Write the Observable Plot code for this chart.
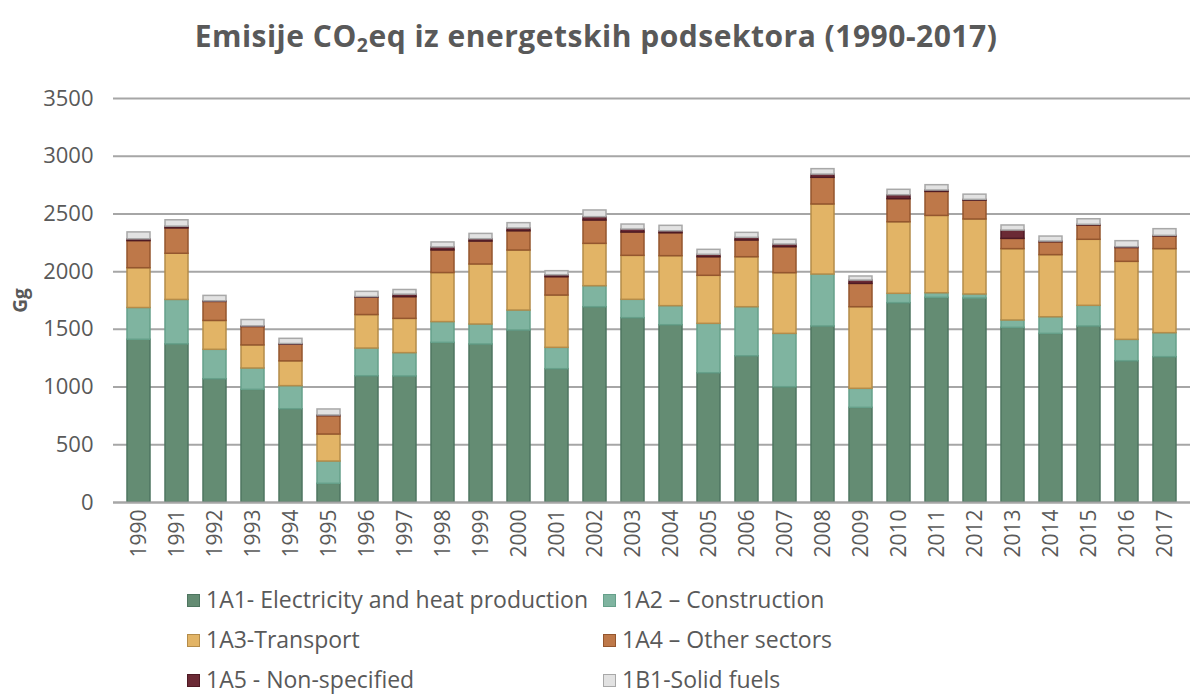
<!DOCTYPE html>
<html><head><meta charset="utf-8">
<script src="https://cdn.jsdelivr.net/npm/d3@7"></script>
<script src="https://cdn.jsdelivr.net/npm/@observablehq/plot@0.6"></script>
<style>
html,body{margin:0;padding:0;background:#fff;overflow:hidden;width:1192px;height:696px;}
body{font-family:"Open Sans",sans-serif;color:#595959;position:relative;}
#title{height:75px;line-height:72px;text-align:center;font-weight:bold;font-size:30px;color:#595959;letter-spacing:0.5px;}
#title sub{font-size:0.65em;vertical-align:-0.25em;line-height:0;}
#chart svg{display:block;}
#chart svg g[aria-label="y-axis label"] text{font-weight:bold;font-size:19px;}
#legend{position:absolute;left:187px;top:579px;display:grid;grid-template-columns:416px auto;font-size:23px;color:#595959;}
.item{height:40px;line-height:40px;white-space:nowrap;}
.sw{display:inline-block;width:11px;height:11px;margin-right:6px;vertical-align:1px;border:1px solid;}
</style></head>
<body>
<div id="title">Emisije CO<sub>2</sub>eq iz energetskih podsektora (1990-2017)</div>
<div id="chart"></div>
<div id="legend"></div>
<script>
const years = [1990,1991,1992,1993,1994,1995,1996,1997,1998,1999,2000,2001,2002,2003,2004,2005,2006,2007,2008,2009,2010,2011,2012,2013,2014,2015,2016,2017];
const seriesNames = ["1A1- Electricity and heat production","1A2 – Construction","1A3-Transport","1A4 – Other sectors","1A5 - Non-specified","1B1-Solid fuels"];
const s1A1 = [1410,1370,1068,976,808,162,1094,1092,1383,1369,1490,1155,1692,1597,1536,1120,1267,999,1525,820,1727,1773,1767,1513,1461,1525,1224,1259];
const s1A2 = [275,385,255,185,200,193,240,202,180,173,173,185,182,159,165,428,425,462,450,165,81,40,35,64,144,179,185,208];
const s1A3 = [345,400,250,200,215,234,290,297,425,520,520,453,367,381,433,416,433,526,607,707,620,670,650,618,538,572,676,728];
const s1A4 = [235,220,165,160,145,160,150,188,196,199,167,159,202,202,199,161,145,225,231,202,200,208,163,89,112,124,120,110];
const s1A5 = [15,15,5,5,5,5,6,22,26,20,24,17,29,26,17,21,23,23,28,29,34,12,7,72,6,6,7,5];
const s1B1 = [60,55,47,55,45,52,45,40,43,46,46,35,58,43,47,43,43,41,47,35,47,46,45,44,43,48,52,58];
const yTicks = [0,500,1000,1500,2000,2500,3000,3500];
const fills = ["#648C73","#7FB4A0","#E2B466","#BE7849","#6B2A35","#E2E2E2"];
const strokes = ["#4E7560","#66A08A","#B48C4A","#94562E","#4E1A24","#A8A8A8"];

const values = [s1A1,s1A2,s1A3,s1A4,s1A5,s1B1];
const table = [];
seriesNames.forEach((s,i)=>years.forEach((y,j)=>table.push({year:String(y),series:s,value:values[i][j]})));
const strokeOf = Object.fromEntries(seriesNames.map((s,i)=>[s,strokes[i]]));

const chart = Plot.plot({
  width:1192, height:500,
  marginLeft:113, marginRight:2, marginTop:23, marginBottom:73,
  style:{fontFamily:"Open Sans, sans-serif", color:"#595959", background:"#fff"},
  x:{type:"band", domain:years.map(String), paddingInner:0.4, paddingOuter:0.23},
  y:{domain:[0,3500]},
  color:{domain:seriesNames, range:fills},
  marks:[
    Plot.gridY(yTicks,{stroke:"#A6A6A6", strokeOpacity:1, strokeWidth:2}),
    Plot.barY(table,{x:"year", y:"value", fill:"series", stroke:d=>strokeOf[d.series], strokeWidth:1.5}),
    Plot.ruleY([0],{stroke:"#A6A6A6", strokeWidth:2}),
    Plot.axisY(yTicks,{tickSize:0, tickPadding:20, fontSize:22, tickFormat:d=>String(d), label:"Gg", labelAnchor:"center", labelArrow:"none", labelOffset:100}),
    Plot.axisX({tickSize:0, tickRotate:-90, tickPadding:7, fontSize:21, label:null})
  ]
});
document.getElementById("chart").appendChild(chart);

const legend = document.getElementById("legend");
[0,1,2,3,4,5].forEach(i=>{
  const it = document.createElement("div"); it.className="item";
  const sw = document.createElement("span"); sw.className="sw";
  sw.style.background = fills[i]; sw.style.borderColor = strokes[i];
  it.appendChild(sw); it.appendChild(document.createTextNode(seriesNames[i]));
  legend.appendChild(it);
});
</script>
</body></html>
